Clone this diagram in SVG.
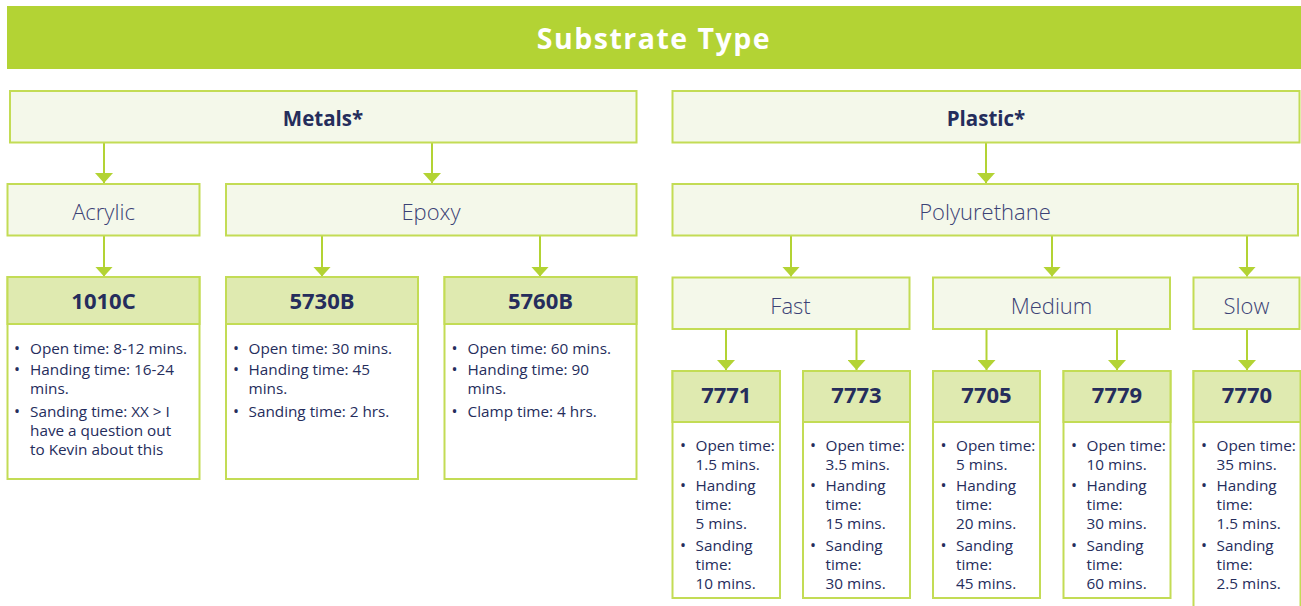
<svg xmlns="http://www.w3.org/2000/svg" width="1301" height="606" viewBox="0 0 1301 606">
<defs>
<style>
.bar{fill:#B3D334}
.cat{fill:#F4F8EA;stroke:#C3DC55;stroke-width:2}
.ph{fill:#DFEAB0;stroke:#C3DC55;stroke-width:2}
.pb{fill:#FFFFFF;stroke:#C3DC55;stroke-width:2}
.title{font-family:"Open Sans","Liberation Sans",sans-serif;font-weight:700;font-size:28.5px;fill:#FFFFFF;letter-spacing:1.5px}
.h1{font-family:"Open Sans","Liberation Sans",sans-serif;font-weight:700;font-size:20.5px;fill:#252D5C}
.h2{font-family:"Open Sans","Liberation Sans",sans-serif;font-weight:300;font-size:22px;fill:#3B4275}
.pt{font-family:"Open Sans","Liberation Sans",sans-serif;font-weight:700;font-size:22px;fill:#252D5C}
.tx{font-family:"Open Sans","Liberation Sans",sans-serif;font-size:15.3px;fill:#252D5C}
.bu{font-family:"Open Sans","Liberation Sans",sans-serif;font-size:16px;fill:#252D5C}
.con{stroke:#B3D334;stroke-width:2;fill:none;marker-end:url(#ah)}
</style>
<marker id="ah" markerUnits="userSpaceOnUse" viewBox="0 0 10 18" refX="10" refY="9" markerWidth="10" markerHeight="18" orient="auto">
<path d="M0,0 L10,9 L0,18 Z" fill="#B3D334"/>
</marker>
</defs>

<g id="header">
<rect class="bar" x="7" y="6" width="1294" height="63"/>
<text class="title" x="654" y="49" text-anchor="middle">Substrate Type</text>
</g>

<g id="connectors">
<path class="con" d="M104,143 V183"/>
<path class="con" d="M432,143 V183"/>
<path class="con" d="M104,236 V276.5"/>
<path class="con" d="M322,236 V276.5"/>
<path class="con" d="M540,236 V276.5"/>
<path class="con" d="M986,143 V183"/>
<path class="con" d="M791,236 V276.5"/>
<path class="con" d="M1052,236 V276.5"/>
<path class="con" d="M1247,236 V276.5"/>
<path class="con" d="M726,330 V370"/>
<path class="con" d="M856.5,330 V370"/>
<path class="con" d="M986.5,330 V370"/>
<path class="con" d="M1117,330 V370"/>
<path class="con" d="M1247,330 V370"/>
</g>

<g id="metals">
<rect class="cat" x="10" y="91" width="626.5" height="51.5"/>
<text class="h1" x="323" y="125.5" text-anchor="middle">Metals*</text>
</g>
<g id="plastic">
<rect class="cat" x="672.5" y="91" width="627" height="51.5"/>
<text class="h1" x="986" y="125.5" text-anchor="middle">Plastic*</text>
</g>

<g id="acrylic">
<rect class="cat" x="7.5" y="184" width="192" height="51.5"/>
<text class="h2" x="103.5" y="220" text-anchor="middle">Acrylic</text>
</g>
<g id="epoxy">
<rect class="cat" x="226" y="184" width="410.5" height="51.5"/>
<text class="h2" x="431" y="220" text-anchor="middle">Epoxy</text>
</g>
<g id="polyurethane">
<rect class="cat" x="672.5" y="184" width="625.5" height="51.5"/>
<text class="h2" x="985" y="220" text-anchor="middle">Polyurethane</text>
</g>

<g id="fast">
<rect class="cat" x="672.5" y="277.5" width="237" height="51.5"/>
<text class="h2" x="790.5" y="313.5" text-anchor="middle">Fast</text>
</g>
<g id="medium">
<rect class="cat" x="933" y="277.5" width="237" height="51.5"/>
<text class="h2" x="1051.5" y="313.5" text-anchor="middle">Medium</text>
</g>
<g id="slow">
<rect class="cat" x="1193.5" y="277.5" width="106" height="51.5"/>
<text class="h2" x="1246.5" y="313.5" text-anchor="middle">Slow</text>
</g>

<g id="p1010C">
<rect class="pb" x="7.5" y="277" width="192" height="202"/>
<rect class="ph" x="7.5" y="277" width="192" height="47"/>
<text class="pt" x="103.5" y="308.5" text-anchor="middle">1010C</text>
<text class="bu" x="14" y="354">•</text>
<text class="tx" x="30" y="354">Open time: 8-12 mins.</text>
<text class="bu" x="14" y="375">•</text>
<text class="tx" x="30" y="375">Handing time: 16-24</text>
<text class="tx" x="30" y="394">mins.</text>
<text class="bu" x="14" y="416.5">•</text>
<text class="tx" x="30" y="416.5">Sanding time: XX &gt; I</text>
<text class="tx" x="30" y="435.5">have a question out</text>
<text class="tx" x="30" y="454.5">to Kevin about this</text>
</g>

<g id="p5730B">
<rect class="pb" x="226" y="277" width="192" height="202"/>
<rect class="ph" x="226" y="277" width="192" height="47"/>
<text class="pt" x="322" y="308.5" text-anchor="middle">5730B</text>
<text class="bu" x="233" y="354">•</text>
<text class="tx" x="248.5" y="354">Open time: 30 mins.</text>
<text class="bu" x="233" y="375">•</text>
<text class="tx" x="248.5" y="375">Handing time: 45</text>
<text class="tx" x="248.5" y="394">mins.</text>
<text class="bu" x="233" y="416.5">•</text>
<text class="tx" x="248.5" y="416.5">Sanding time: 2 hrs.</text>
</g>

<g id="p5760B">
<rect class="pb" x="444.5" y="277" width="192" height="202"/>
<rect class="ph" x="444.5" y="277" width="192" height="47"/>
<text class="pt" x="540.5" y="308.5" text-anchor="middle">5760B</text>
<text class="bu" x="451.5" y="354">•</text>
<text class="tx" x="467.5" y="354">Open time: 60 mins.</text>
<text class="bu" x="451.5" y="375">•</text>
<text class="tx" x="467.5" y="375">Handing time: 90</text>
<text class="tx" x="467.5" y="394">mins.</text>
<text class="bu" x="451.5" y="416.5">•</text>
<text class="tx" x="467.5" y="416.5">Clamp time: 4 hrs.</text>
</g>

<g id="p7771">
<rect class="pb" x="672.5" y="371" width="107.5" height="227"/>
<rect class="ph" x="672.5" y="371" width="107.5" height="51"/>
<text class="pt" x="726.3" y="402.5" text-anchor="middle">7771</text>
<text class="bu" x="680" y="450.5">•</text>
<text class="tx" x="695.5" y="450.5">Open time:</text>
<text class="tx" x="695.5" y="469.5">1.5 mins.</text>
<text class="bu" x="680" y="491">•</text>
<text class="tx" x="695.5" y="491">Handing</text>
<text class="tx" x="695.5" y="510">time:</text>
<text class="tx" x="695.5" y="529">5 mins.</text>
<text class="bu" x="680" y="550.5">•</text>
<text class="tx" x="695.5" y="550.5">Sanding</text>
<text class="tx" x="695.5" y="569.5">time:</text>
<text class="tx" x="695.5" y="588.5">10 mins.</text>
</g>

<g id="p7773">
<rect class="pb" x="803" y="371" width="107" height="227"/>
<rect class="ph" x="803" y="371" width="107" height="51"/>
<text class="pt" x="856.5" y="402.5" text-anchor="middle">7773</text>
<text class="bu" x="810" y="450.5">•</text>
<text class="tx" x="825.5" y="450.5">Open time:</text>
<text class="tx" x="825.5" y="469.5">3.5 mins.</text>
<text class="bu" x="810" y="491">•</text>
<text class="tx" x="825.5" y="491">Handing</text>
<text class="tx" x="825.5" y="510">time:</text>
<text class="tx" x="825.5" y="529">15 mins.</text>
<text class="bu" x="810" y="550.5">•</text>
<text class="tx" x="825.5" y="550.5">Sanding</text>
<text class="tx" x="825.5" y="569.5">time:</text>
<text class="tx" x="825.5" y="588.5">30 mins.</text>
</g>

<g id="p7705">
<rect class="pb" x="933" y="371" width="107" height="227"/>
<rect class="ph" x="933" y="371" width="107" height="51"/>
<text class="pt" x="986.5" y="402.5" text-anchor="middle">7705</text>
<text class="bu" x="940.5" y="450.5">•</text>
<text class="tx" x="956" y="450.5">Open time:</text>
<text class="tx" x="956" y="469.5">5 mins.</text>
<text class="bu" x="940.5" y="491">•</text>
<text class="tx" x="956" y="491">Handing</text>
<text class="tx" x="956" y="510">time:</text>
<text class="tx" x="956" y="529">20 mins.</text>
<text class="bu" x="940.5" y="550.5">•</text>
<text class="tx" x="956" y="550.5">Sanding</text>
<text class="tx" x="956" y="569.5">time:</text>
<text class="tx" x="956" y="588.5">45 mins.</text>
</g>

<g id="p7779">
<rect class="pb" x="1063.5" y="371" width="107" height="227"/>
<rect class="ph" x="1063.5" y="371" width="107" height="51"/>
<text class="pt" x="1117" y="402.5" text-anchor="middle">7779</text>
<text class="bu" x="1071" y="450.5">•</text>
<text class="tx" x="1086.5" y="450.5">Open time:</text>
<text class="tx" x="1086.5" y="469.5">10 mins.</text>
<text class="bu" x="1071" y="491">•</text>
<text class="tx" x="1086.5" y="491">Handing</text>
<text class="tx" x="1086.5" y="510">time:</text>
<text class="tx" x="1086.5" y="529">30 mins.</text>
<text class="bu" x="1071" y="550.5">•</text>
<text class="tx" x="1086.5" y="550.5">Sanding</text>
<text class="tx" x="1086.5" y="569.5">time:</text>
<text class="tx" x="1086.5" y="588.5">60 mins.</text>
</g>

<g id="p7770">
<rect class="pb" x="1193.5" y="371" width="107" height="245"/>
<rect class="ph" x="1193.5" y="371" width="107" height="51"/>
<text class="pt" x="1247" y="402.5" text-anchor="middle">7770</text>
<text class="bu" x="1201" y="450.5">•</text>
<text class="tx" x="1216.5" y="450.5">Open time:</text>
<text class="tx" x="1216.5" y="469.5">35 mins.</text>
<text class="bu" x="1201" y="491">•</text>
<text class="tx" x="1216.5" y="491">Handing</text>
<text class="tx" x="1216.5" y="510">time:</text>
<text class="tx" x="1216.5" y="529">1.5 mins.</text>
<text class="bu" x="1201" y="550.5">•</text>
<text class="tx" x="1216.5" y="550.5">Sanding</text>
<text class="tx" x="1216.5" y="569.5">time:</text>
<text class="tx" x="1216.5" y="588.5">2.5 mins.</text>
</g>
</svg>
